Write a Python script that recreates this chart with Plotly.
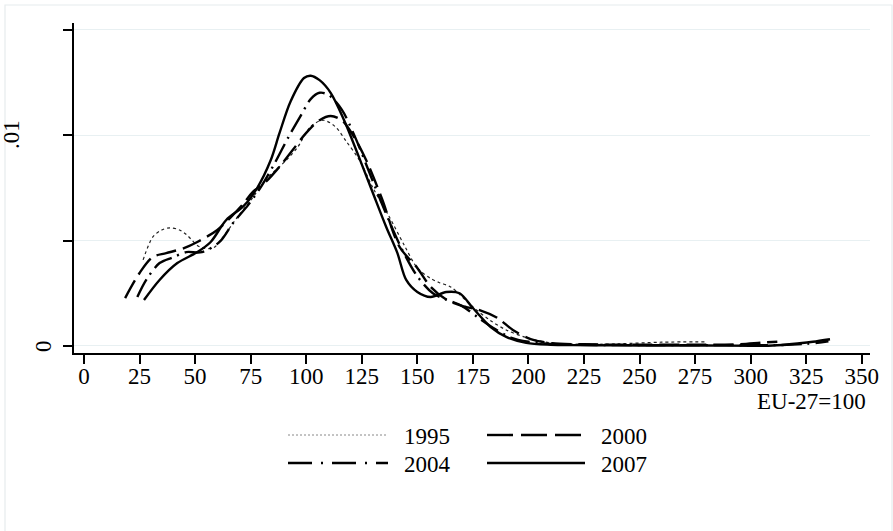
import plotly.graph_objects as go

# Kernel density of regional GDP per head (EU-27=100), four years
x_1995 = [26.6, 31, 35, 38.7, 43, 46.3, 52, 58, 62.6, 69, 75, 82, 90, 96, 102, 107.6,
          113, 118, 124, 130, 137, 144, 150, 156, 160, 165, 175, 183, 190, 199, 210,
          225, 240, 260, 280]
y_1995 = [.00408, .00517, .0055, .0056, .0055, .00526, .0047, .00464, .00517, .0061, .0069,
          .0079, .0087, .0094, .0104, .0107, .0104, .0097, .0088, .0075, .0062, .0048,
          .0037, .0032, .0030, .0028, .00185, .0012, .00076, .0004, .00015, .00008,
          .0001, .00018, .0002]

x_2000 = [18.5, 25, 31, 37, 45, 51, 60, 66, 72, 76, 82, 88, 94, 100, 106, 111, 116, 121,
          127, 134, 142, 150, 156, 163, 170, 178, 186, 193, 201, 210, 225, 250, 275, 295,
          305, 312]
y_2000 = [.00227, .00346, .00422, .0044, .00464, .00493, .0055, .0061, .00678, .0073, .0078,
          .0085, .0093, .0101, .0107, .0109, .0107, .0100, .0088, .0070, .0047, .0037,
          .0028, .0022, .0019, .0017, .00133, .00076, .00033, .00014, .00008, .00006,
          .00006, .00008, .00016, .0002]

x_2004 = [24, 28, 34, 40, 46, 53, 61, 67, 74, 80, 86, 92, 98, 102, 106, 110, 116, 122, 130,
          137, 143, 150, 157, 163, 170, 178, 185, 192, 200, 210, 230, 260, 290, 310, 325, 335]
y_2004 = [.00232, .00313, .00393, .0042, .00445, .00445, .00493, .00582, .0067, .0076, .0087,
          .0099, .0110, .0117, .0120, .0119, .0112, .0099, .0078, .0060, .0046, .0033,
          .0025, .0022, .0019, .0013, .0008, .0004, .0002, .0001, .00005, .00004, .00004,
          .00004, .0001, .00022]

x_2007 = [27, 34, 42, 51, 57, 64, 72, 78, 84, 88, 93, 99, 102, 106, 111, 117, 123, 130, 136,
          141, 145, 150, 156, 163, 169, 175, 183, 190, 199, 210, 220, 240, 260, 280, 300,
          310, 322, 328, 335.7]
y_2007 = [.00218, .00313, .00393, .00445, .00493, .00597, .00665, .0075, .0088, .0101,
          .0116, .0127, .01281, .0126, .0120, .01071, .00915, .00725, .00564, .00441,
          .00313, .00256, .00232, .00256, .0025, .0018, .0009, .00043, .00015, .00006,
          .00004, .00003, .00002, .00002, .00001, .00002, .00013, .0002, .00032]

years = ["1995", "2000", "2004", "2007"]
x_tick_vals = list(range(0, 351, 25))
y_tick_vals = [0, .005, .01, .015]
y_tick_text = {0: "0", .01: ".01"}
x_title = "EU-27=100"

FONT = "Liberation Serif"
FS = 23
W, H = 893, 531
ML, MR, MT, MB = 74, 23, 23, 178
PW, PH = W - ML - MR, H - MT - MB

styles = {
    "1995": dict(color="#222", width=1.2, dash="dot"),
    "2000": dict(color="black", width=2.4, dash="20px,7px"),
    "2004": dict(color="black", width=2.4, dash="20px,6px,2px,6px"),
    "2007": dict(color="black", width=2.4, dash="solid"),
}
legend_styles = {
    "1995": dict(color="#888", width=1, dash="2px,2px"),
    "2000": dict(color="black", width=2.4, dash="26px,8px"),
    "2004": dict(color="black", width=2.4, dash="24px,9px,2px,9px"),
    "2007": dict(color="black", width=2.4, dash="solid"),
}

series = {"1995": (x_1995, y_1995), "2000": (x_2000, y_2000),
          "2004": (x_2004, y_2004), "2007": (x_2007, y_2007)}


def px(xp):
    return (xp - ML) / PW


def py(yp):
    return (H - MB - yp) / PH


fig = go.Figure()
for yr in years:
    xs, ys = series[yr]
    fig.add_trace(go.Scatter(x=xs, y=ys, mode="lines", name=yr,
                             line=dict(shape="spline", smoothing=0.9, **styles[yr]),
                             showlegend=False))

shapes = []
annotations = []

# outer frame
shapes.append(dict(type="rect", xref="paper", yref="paper",
                   x0=px(5), x1=px(892), y0=py(545), y1=py(5),
                   line=dict(color="#e6eced", width=1.2), fillcolor="rgba(0,0,0,0)",
                   layer="below"))

# legend: two columns, two rows
legend_pos = {"1995": (288, 388, 435), "2000": (487, 585, 435),
              "2004": (288, 388, 463), "2007": (487, 585, 463)}
for yr in years:
    x0, x1, yy = legend_pos[yr]
    shapes.append(dict(type="line", xref="paper", yref="paper",
                       x0=px(x0), x1=px(x1), y0=py(yy), y1=py(yy),
                       line=legend_styles[yr]))
    annotations.append(dict(text=yr, xref="paper", yref="paper", x=px(x1 + 14), y=py(yy + 1),
                            xanchor="left", yanchor="middle", showarrow=False,
                            font=dict(family=FONT, size=FS, color="black")))

# y labels, written vertically
for val, lab in y_tick_text.items():
    xc = 44 if val == 0 else 11
    annotations.append(dict(text=lab, xref="paper", yref="y", x=px(xc), y=val,
                            xanchor="center", yanchor="middle", textangle=-90,
                            showarrow=False,
                            font=dict(family=FONT, size=FS, color="black")))

# x axis title, right aligned under the last tick
annotations.append(dict(text=x_title, xref="paper", yref="paper", x=px(868), y=py(401),
                        xanchor="right", yanchor="middle", showarrow=False,
                        font=dict(family=FONT, size=FS, color="black")))

fig.update_layout(
    width=W, height=H, autosize=False,
    margin=dict(l=ML, r=MR, t=MT, b=MB, pad=0),
    paper_bgcolor="white", plot_bgcolor="white",
    shapes=shapes, annotations=annotations,
    font=dict(family=FONT, size=FS, color="black"),
    xaxis=dict(range=[-4.5, 353.7], tickvals=x_tick_vals, showgrid=False, zeroline=False,
               showline=True, linecolor="black", linewidth=1.5,
               ticks="outside", ticklen=9, tickwidth=1.5, tickcolor="black",
               ticklabelstandoff=-7,
               tickfont=dict(family=FONT, size=FS, color="black")),
    yaxis=dict(range=[-0.000332, 0.015308], tickvals=y_tick_vals, showticklabels=False,
               showgrid=True, gridcolor="#e8f0f2", gridwidth=1.2, zeroline=False,
               showline=True, linecolor="black", linewidth=1.5,
               ticks="outside", ticklen=9, tickwidth=1.5, tickcolor="black"),
)

fig.write_html("out.html")
